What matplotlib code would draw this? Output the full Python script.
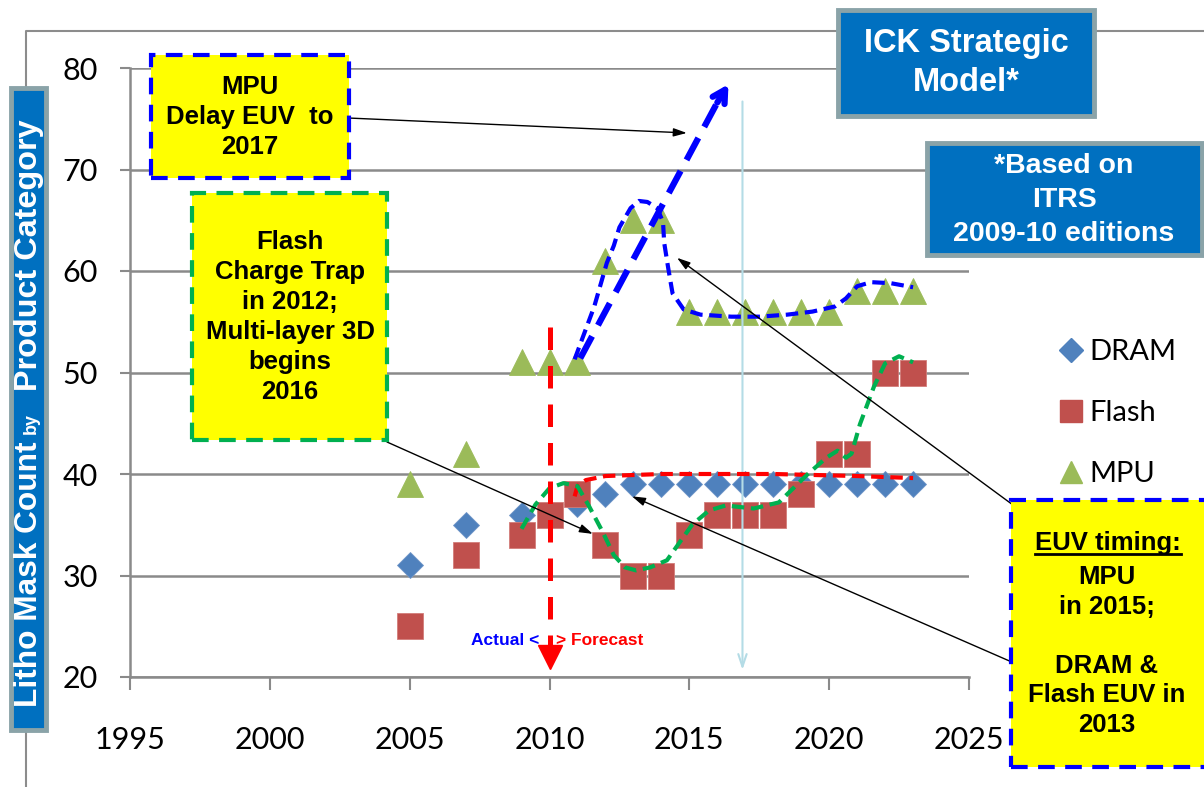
import matplotlib
matplotlib.use('Agg')
import matplotlib.pyplot as plt
from matplotlib.patches import Rectangle
from matplotlib.lines import Line2D

plt.rcParams['font.family'] = ['Lato', 'DejaVu Sans']

# ---- data ----
dram_years = [2005, 2007, 2009, 2011, 2012, 2013, 2014, 2015, 2016, 2017, 2018, 2019, 2020, 2021, 2022, 2023]
dram = [31, 35, 36, 37, 38, 39, 39, 39, 39, 39, 39, 39, 39, 39, 39, 39]

flash_years = [2005, 2007, 2009, 2010, 2011, 2012, 2013, 2014, 2015, 2016, 2017, 2018, 2019, 2020, 2021, 2022, 2023]
flash = [25, 32, 34, 36, 38, 33, 30, 30, 34, 36, 36, 36, 38, 42, 42, 50, 50]

mpu_years = [2005, 2007, 2009, 2010, 2011, 2012, 2013, 2014, 2015, 2016, 2017, 2018, 2019, 2020, 2021, 2022, 2023]
mpu = [39, 42, 51, 51, 51, 61, 65, 65, 56, 56, 56, 56, 56, 56, 58, 58, 58]

# hand drawn trend curves (year, count)
mpu_curve_x = [2010.9, 2011.1, 2011.6, 2012.05, 2012.3, 2012.5, 2012.9, 2013.2, 2013.5, 2013.85, 2014.06, 2014.1, 2014.25,
               2014.4, 2014.8, 2015.4, 2016.5, 2017.5, 2018.5, 2019.4, 2020.2, 2020.6, 2021.0, 2021.5, 2022.2, 2023.0]
mpu_curve_y = [51.3, 52.8, 56.5, 60.8, 62.5, 64.3, 66.2, 66.9, 66.8, 66.2, 64.8, 62.8, 60.2,
               57.8, 56.2, 55.7, 55.5, 55.5, 55.7, 56.0, 56.5, 57.3, 58.5, 58.9, 58.8, 58.4]

flash_curve_x = [2009.0, 2009.5, 2010.0, 2010.5, 2011.0, 2011.4, 2011.9, 2012.3, 2012.7, 2013.1, 2013.6, 2014.2, 2015.1,
                 2015.7, 2016.3, 2017.3, 2018.2, 2019.2, 2019.9, 2020.3, 2020.6, 2020.8, 2021.1, 2021.6, 2022.0, 2022.5, 2023.0]
flash_curve_y = [34.6, 37.0, 38.6, 39.1, 38.8, 36.9, 34.3, 32.0, 30.8, 30.5, 30.8, 31.5, 35.0,
                 36.4, 36.9, 36.6, 37.2, 39.9, 41.6, 42.3, 41.6, 42.0, 44.9, 48.6, 50.9, 51.6, 51.0]

dram_curve_x = [2010.9, 2011.0, 2011.3, 2012.0, 2014.0, 2018.0, 2021.0, 2023.0]
dram_curve_y = [37.8, 38.8, 39.4, 39.8, 40.0, 40.0, 39.8, 39.6]

delay_x = [2011.1, 2016.0]
delay_y = [51.4, 76.6]
delay_tip = (2016.4, 78.4)

split_year = 2010
split_y = [54.5, 22.5]
euv_year = 2016.9
euv_y = [76.7, 20.7]

x_ticks = [1995, 2000, 2005, 2010, 2015, 2020, 2025]
y_ticks = [20, 30, 40, 50, 60, 70, 80]

c_dram = '#4F81BD'
c_flash = '#C0504D'
c_mpu = '#9BBB59'
grid_c = '#8A8A8A'

W, H = 1204, 787
fig = plt.figure(figsize=(W / 100, H / 100), dpi=100)


def fx(px):
    return px / W


def fy(py):
    return 1 - py / H


ax = fig.add_axes([fx(130), fy(677), (969 - 130) / W, (677 - 68) / H])
ax.set_xlim(1995, 2025)
ax.set_ylim(20, 80)
ax.set_xticks(x_ticks)
ax.set_yticks(y_ticks)
ax.set_yticklabels([str(v) for v in y_ticks])
for s in ['top', 'right']:
    ax.spines[s].set_visible(False)
for s in ['left', 'bottom']:
    ax.spines[s].set_color(grid_c)
    ax.spines[s].set_linewidth(1.8)
ax.yaxis.grid(True, color=grid_c, lw=1.8)
ax.set_axisbelow(True)
ax.tick_params(axis='x', direction='out', length=9, width=1.5, color=grid_c, pad=26, labelsize=22)
ax.tick_params(axis='y', direction='out', length=7, width=1.5, color=grid_c, pad=16, labelsize=22)

ax.plot(dram_years, dram, ls='none', marker='D', ms=13.5, color=c_dram, mec='#6f95c8', mew=0.6, zorder=3)
ax.plot(flash_years, flash, ls='none', marker='s', ms=19, color=c_flash, mec='#d27c79', mew=0.6, zorder=3)
ax.plot(mpu_years, mpu, ls='none', marker='^', ms=19, color=c_mpu, mec=c_mpu, mew=0.6, zorder=3)

# trend curves
ax.plot(dram_curve_x, dram_curve_y, color='#FF0000', lw=3, ls=(0, (3, 1.6)), zorder=4)
ax.plot(flash_curve_x, flash_curve_y, color='#00B050', lw=3, ls=(0, (3, 1.6)), zorder=4)
ax.plot(mpu_curve_x, mpu_curve_y, color='#0000FF', lw=3, ls=(0, (3, 1.6)), zorder=4)

# straight "delay" arrow
ax.plot(delay_x, delay_y, color='#0000FF', lw=4.5, ls=(0, (4, 2)), zorder=4)
ax.annotate('', xy=delay_tip, xytext=(delay_x[1], delay_y[1]),
            arrowprops=dict(arrowstyle='->,head_length=0.9,head_width=0.5', color='#0000FF', lw=4.5,
                            shrinkA=0, shrinkB=0), zorder=4, annotation_clip=False)

# actual / forecast split
ax.plot([split_year, split_year], split_y, color='#FF0000', lw=3.6, ls=(0, (4.5, 3.2)), zorder=4)
ax.plot([split_year], [22.0], marker='v', ms=17, color='#FF0000', zorder=4)
ax.text(split_year - 0.35, 23.6, 'Actual <', color='#0000FF', fontsize=12.5, fontweight='bold',
        family='Liberation Sans', ha='right', va='center')
ax.text(split_year + 0.25, 23.6, '> Forecast', color='#FF0000', fontsize=12.5, fontweight='bold',
        family='Liberation Sans', ha='left', va='center')

# light blue EUV marker line
ax.annotate('', xy=(euv_year, euv_y[1]), xytext=(euv_year, euv_y[0]),
            arrowprops=dict(arrowstyle='->,head_length=0.9,head_width=0.3', color='#B4DCE6', lw=1.5,
                            shrinkA=0, shrinkB=0))

# outer frame
fig.add_artist(Line2D([fx(26), fx(26), 1], [0, fy(31), fy(31)], transform=fig.transFigure,
                      color='#8C8C8C', lw=1.5, zorder=0.5))


def box(x0, y0, x1, y1, face, edge, lw, ls='-', z=5):
    r = Rectangle((fx(x0), fy(y1)), (x1 - x0) / W, (y1 - y0) / H, transform=fig.transFigure,
                  facecolor=face, edgecolor=edge, lw=lw, linestyle=ls, zorder=z)
    fig.add_artist(r)


def btext(px, py, s, size=18.5, color='black', ls=1.3, **kw):
    return fig.text(fx(px), fy(py), s, ha='center', va='center', fontsize=size, fontweight='bold',
                    color=color, family='Liberation Sans', linespacing=ls, zorder=6, **kw)


# black leader arrows
arrow_kw = dict(arrowstyle='-|>,head_length=0.8,head_width=0.25', color='black', lw=1.0, shrinkA=0, shrinkB=0)
leaders = [((348, 118), (2014.91, 73.6)),
           ((387, 442), (2011.55, 34.1)),
           ((1047, 530), (2014.56, 61.3)),
           ((1037, 673), (2012.95, 37.8))]
for (px, py), tip in leaders:
    ax.annotate('', xy=tip, xycoords='data', xytext=(fx(px), fy(py)), textcoords='figure fraction',
                arrowprops=arrow_kw, annotation_clip=False, zorder=5)

# callout boxes
box(151, 55, 349, 178, '#FFFF00', '#0000FF', 3, (0, (4, 2.5)))
btext(250, 117, 'MPU\nDelay EUV  to\n2017', ls=1.3)

box(192, 193, 387, 440, '#FFFF00', '#00B050', 3, (0, (4, 2.5)))
btext(290, 317, 'Flash\nCharge Trap\nin 2012;\nMulti-layer 3D\nbegins\n2016', ls=1.32)

box(1011, 500, 1210, 767, '#FFFF00', '#0000FF', 3, (0, (4, 2.5)))
t_euv = fig.text(fx(1108), fy(550), 'EUV timing:', ha='center', va='baseline', fontsize=18.5,
                 fontweight='bold', family='Liberation Sans', zorder=6)
btext(1107, 651, 'MPU\nin 2015;\n\nDRAM &\nFlash EUV in\n2013', ls=1.29)

box(838, 10, 1094, 116, '#0070C0', '#8AA3A8', 3.5)
btext(966, 63, 'ICK Strategic\nModel*', size=23.5, color='white', ls=1.33)

box(927, 143, 1202, 255, '#0070C0', '#8AA3A8', 3.5)
btext(1064, 200, '*Based on\nITRS\n2009-10 editions', size=20.5, color='white', ls=1.38)

# y label box
box(11, 88, 46, 730, '#0070C0', '#8AA3A8', 3.5)
fig.text(fx(29), fy(707), 'Litho Mask Count', rotation=90, ha='center', va='bottom', fontsize=22.8,
         fontweight='bold', color='white', family='Liberation Sans', zorder=6)
fig.text(fx(31), fy(434), 'by', rotation=90, ha='center', va='bottom', fontsize=13,
         fontweight='bold', color='white', family='Liberation Sans', zorder=6)
fig.text(fx(29), fy(391), 'Product Category', rotation=90, ha='center', va='bottom', fontsize=23.3,
         fontweight='bold', color='white', family='Liberation Sans', zorder=6)

# legend
handles = [Line2D([], [], ls='none', marker='D', ms=12, color=c_dram),
           Line2D([], [], ls='none', marker='s', ms=15.5, color=c_flash),
           Line2D([], [], ls='none', marker='^', ms=16.5, color=c_mpu)]
fig.legend(handles, ['DRAM', 'Flash', 'MPU'], loc='upper left', bbox_to_anchor=(fx(1056), fy(339)),
           frameon=False, fontsize=21, labelspacing=1.2, handletextpad=0.15, handlelength=1.0,
           borderpad=0, borderaxespad=0)

# underline for "EUV timing:"
fig.canvas.draw()
bb = t_euv.get_window_extent()
fig.add_artist(Line2D([bb.x0 / W, bb.x1 / W], [fy(554), fy(554)], transform=fig.transFigure,
                      color='black', lw=2, zorder=6))

fig.savefig('out.png', dpi=100)
